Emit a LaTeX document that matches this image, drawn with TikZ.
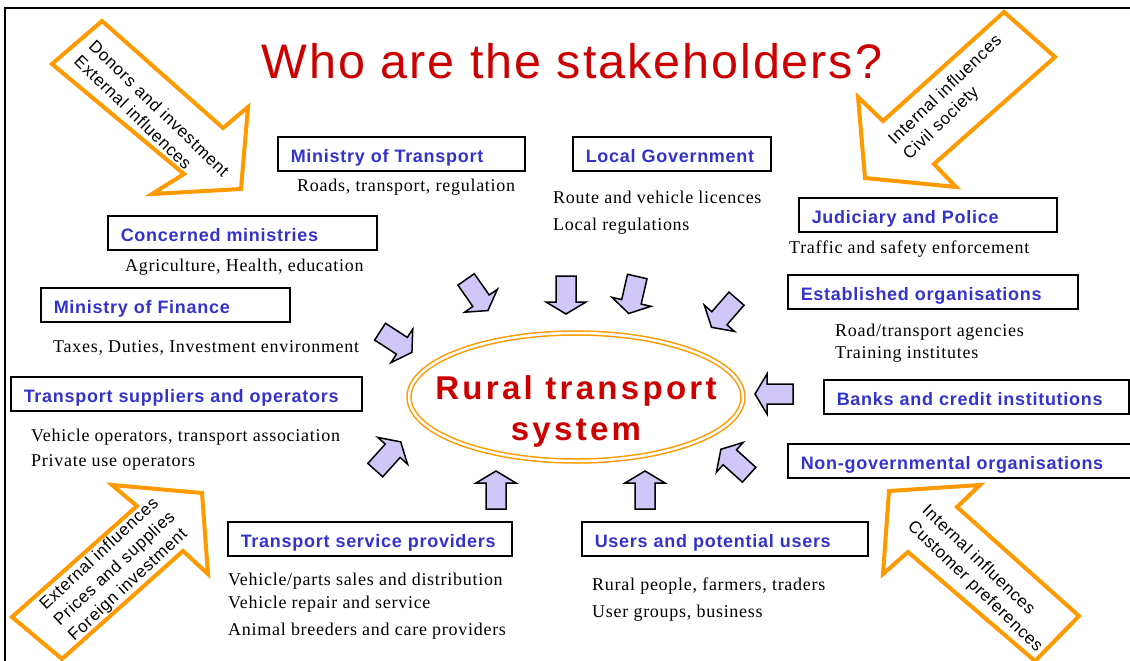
\documentclass[tikz,border=0pt]{standalone}
\usepackage{fontspec}
\setmainfont{Liberation Serif}[LetterSpace=4]
\newfontfamily\stkfont{Liberation Sans}[LetterSpace=4]
\newfontfamily\hubfont{Liberation Sans}[LetterSpace=10]
\usetikzlibrary{shapes.geometric}
\definecolor{titlered}{RGB}{204,0,0}
\definecolor{boxblue}{RGB}{51,51,204}
\definecolor{arroworange}{RGB}{255,153,0}
\definecolor{lavender}{RGB}{208,198,248}

\begin{document}
\begin{tikzpicture}[x=1pt,y=-1pt,
    headline/.style={anchor=base,inner sep=0pt,text=titlered,font=\stkfont\fontsize{48.5}{56}\selectfont},
    stakebox/.style={draw,line width=1.5pt,anchor=north west,inner xsep=13pt,inner ysep=0pt,
      minimum height=34pt,text height=17pt,text depth=0pt,align=left,text=boxblue,font=\stkfont\bfseries\fontsize{18}{21}\selectfont},
    desc/.style={anchor=west,inner sep=0pt,align=left,font=\fontsize{18}{21}\selectfont},
    influence/.style={draw=arroworange,line width=4pt,fill=white,line join=miter},
    influtext/.style={align=left,inner sep=0pt,font=\stkfont\fontsize{17}{21}\selectfont},
    pusharrow/.style={draw=black,line width=1.5pt,fill=lavender,line join=miter},
    hub/.style={ellipse,draw=arroworange,double,double distance=2.5pt,line width=1.5pt,
      minimum width=334pt,minimum height=128pt},
    hubtext/.style={align=center,inner sep=0pt,text=titlered,font=\hubfont\bfseries\fontsize{33}{41}\selectfont}]
    \useasboundingbox (0,0) rectangle (1130,661);
    \draw[line width=2.5pt] (5,662) -- (5,8) -- (1131,8);

    \node[headline] (title) at (572,78) {Who are the stakeholders?};

    % big influence arrows in the corners
    \draw[influence] (102,21) -- (223,128) -- (248,107) -- (241,189) -- (152,194) -- (184,174) -- (52,64) -- cycle;
    \node[influtext,rotate=-44] (donors) at (152,116) {Donors and investment\\External influences};
    \draw[influence] (1004,12) -- (1055,57) -- (934,164) -- (956,187) -- (865,178) -- (858,97) -- (883,121) -- cycle;
    \node[influtext,rotate=44] (civil) at (953,98) {Internal influences\\Civil society};
    \draw[influence] (62,659) -- (12,617) -- (137,506) -- (112,485) -- (202,493) -- (208,574) -- (183,551) -- cycle;
    \node[influtext,rotate=43] (foreign) at (115,569) {External influences\\Prices and supplies\\Foreign investment};
    \draw[influence] (1079,616) -- (957,507) -- (980,485) -- (889,491) -- (883,574) -- (908,552) -- (1035,661) -- cycle;
    \node[influtext,rotate=-44] (customer) at (982,579) {Internal influences\\Customer preferences};

    % stakeholders
    \node[stakebox,text width=221pt] (mot) at (277,136) {Ministry of Transport};
    \node[desc] (motd) at (297,187) {Roads, transport, regulation};
    \node[stakebox,text width=172pt] (lgov) at (572,136) {Local Government};
    \node[desc,font=\fontsize{18}{27}\selectfont] (lgovd) at (553,213) {Route and vehicle licences\\Local regulations};
    \node[stakebox,text width=232pt] (jud) at (798,197) {Judiciary and Police};
    \node[desc] (judd) at (789,249) {Traffic and safety enforcement};
    \node[stakebox,text width=243pt] (cmin) at (107,215) {Concerned ministries};
    \node[desc] (cmind) at (125,267) {Agriculture, Health, education};
    \node[stakebox,text width=223pt] (mof) at (40,287) {Ministry of Finance};
    \node[desc] (mofd) at (53,348) {Taxes, Duties, Investment environment};
    \node[stakebox,text width=264pt] (est) at (787,274) {Established organisations};
    \node[desc,font=\fontsize{18}{22}\selectfont] (estd) at (835,343) {Road/transport agencies\\Training institutes};
    \node[stakebox,text width=325pt] (tso) at (10,376) {Transport suppliers and operators};
    \node[desc,font=\fontsize{18}{25}\selectfont] (tsod) at (31,450) {Vehicle operators, transport association\\Private use operators};
    \node[stakebox,text width=279pt] (bank) at (823,379) {Banks and credit institutions};
    \node[stakebox,text width=322pt] (ngo) at (787,443) {Non-governmental organisations};
    \node[stakebox,text width=258pt] (tsp) at (227,521) {Transport service providers};
    \node[desc,font=\fontsize{18}{23}\selectfont] (tspd) at (228,606) {Vehicle/parts sales and distribution\\Vehicle repair and service\\[4pt]Animal breeders and care providers};
    \node[stakebox,text width=260pt] (usr) at (581,521) {Users and potential users};
    \node[desc,font=\fontsize{18}{27}\selectfont] (usrd) at (592,600) {Rural people, farmers, traders\\User groups, business};

    % the system in the middle
    \node[hub] (hub) at (576,397) {};
    \node[hubtext] (hubtext) at (576,411) {Rural transport\\system};
    \foreach \px/\py/\ang in {477/295/-55,566/295/-90,633/295/-103,724/313/-131,396/342/-33,
                              774/394/180,388/456/48,496/490/90,645/490/90,735/462/138}
    {
      \draw[pusharrow,shift={(\px,\py)},rotate=\ang]
        (-19,-10) -- (7,-10) -- (7,-20) -- (19,0) -- (7,20) -- (7,10) -- (-19,10) -- cycle;
    }
\end{tikzpicture}
\end{document}
